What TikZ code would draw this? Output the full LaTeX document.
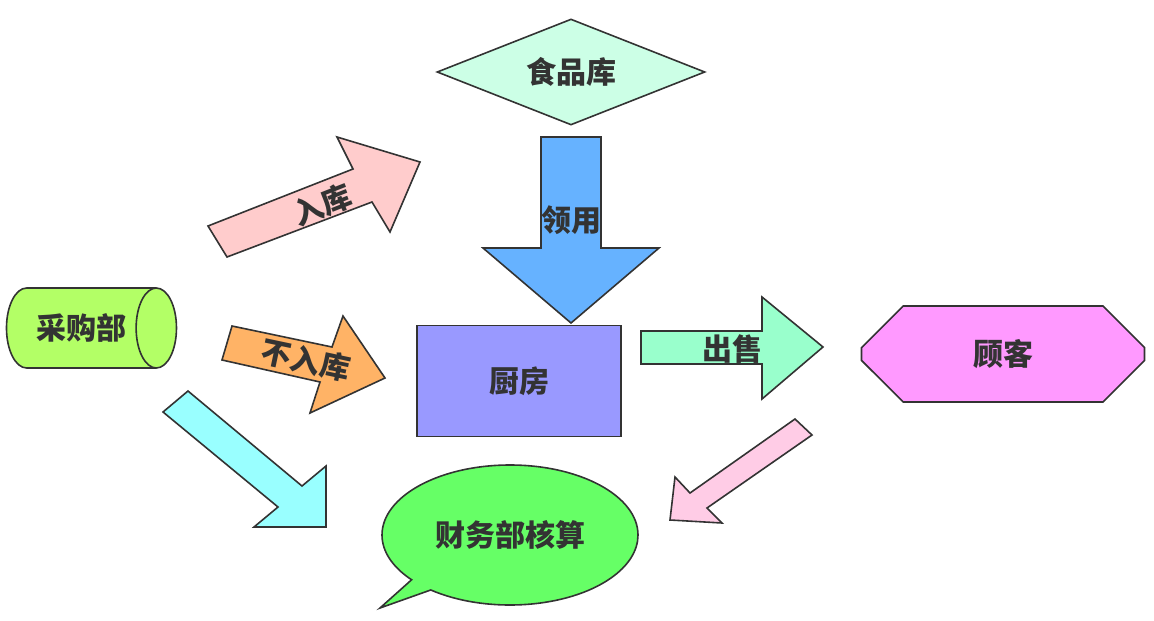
\documentclass[tikz,border=0pt]{standalone}
\usepackage{fontspec}
\newfontfamily\cjk{Noto Sans CJK SC}
\usetikzlibrary{shapes.geometric, shapes.misc, shapes.callouts}
\definecolor{ink}{HTML}{333333}
\definecolor{storefill}{HTML}{CCFFE6}
\definecolor{takefill}{HTML}{66B2FF}
\definecolor{kitchenfill}{HTML}{9999FF}
\definecolor{sellfill}{HTML}{99FFCC}
\definecolor{guestfill}{HTML}{FF99FF}
\definecolor{buyfill}{HTML}{B3FF66}
\definecolor{infill}{HTML}{FFCCCC}
\definecolor{nostorefill}{HTML}{FFB366}
\definecolor{buyacct}{HTML}{99FFFF}
\definecolor{guestacct}{HTML}{FFCCE6}
\definecolor{acctfill}{HTML}{66FF66}

\begin{document}
\begin{tikzpicture}[
    x=1pt, y=-1pt,
    every node/.style={font=\cjk\bfseries\fontsize{30}{34}\selectfont, text=ink},
    box/.style={draw=ink, line width=1.6pt, inner sep=0pt},
    blockarrow/.style={draw=ink, line width=1.6pt},
    tag/.style={inner sep=0pt},
]
\useasboundingbox (0,0) rectangle (1154,621);

% Places
\node[box, diamond, aspect=2.53, fill=storefill, minimum width=268pt, minimum height=106pt] (store) at (571,72) {食品库};
\node[box, rectangle, fill=kitchenfill, minimum width=204pt, minimum height=111pt] (kitchen) at (519,381) {厨房};
\node[box, chamfered rectangle, chamfered rectangle xsep=31pt, chamfered rectangle ysep=27pt,
      fill=guestfill, minimum width=283pt, minimum height=96pt] (guest) at (1003,354) {顾客};
\node[box, cylinder, aspect=1.4, fill=buyfill, minimum width=80pt, minimum height=170pt] (buy) at (81,328) {采购部};
\node[box, ellipse callout, callout absolute pointer={(380,608)}, callout pointer arc=12,
      fill=acctfill, minimum width=256pt, minimum height=140pt] (acct) at (510,535) {财务部核算};

% Block arrows
\filldraw[blockarrow, fill=takefill] (541,137) -- (601,137) -- (601,248) -- (659,248) -- (571,323) -- (483,248) -- (541,248) -- cycle;
\node[tag] (take) at (571,220) {领用};

\filldraw[blockarrow, fill=sellfill] (641,331) -- (762,331) -- (762,297) -- (823,347) -- (762,399) -- (762,364) -- (641,364) -- cycle;
\node[tag] (sell) at (732,349) {出售};

\filldraw[blockarrow, fill=infill] (208,226) -- (353,169) -- (337,137) -- (420,162) -- (390,232) -- (372,202) -- (227,257) -- cycle;
\node[tag, rotate=21.5] (instore) at (322,205) {入库};

\filldraw[blockarrow, fill=nostorefill] (232,326) -- (332,347) -- (343,316) -- (385,378) -- (310,413) -- (320,382) -- (222,360) -- cycle;
\node[tag, rotate=-12] (nostore) at (306,360) {不入库};

\filldraw[blockarrow, fill=buyacct] (163,412) -- (188,391) -- (302,486) -- (326,466) -- (326,527) -- (254,527) -- (278,507) -- cycle;

\filldraw[blockarrow, fill=guestacct] (795,419) -- (812,435) -- (707,508) -- (722,523) -- (670,520) -- (675,477) -- (690,493) -- cycle;

\end{tikzpicture}
\end{document}
